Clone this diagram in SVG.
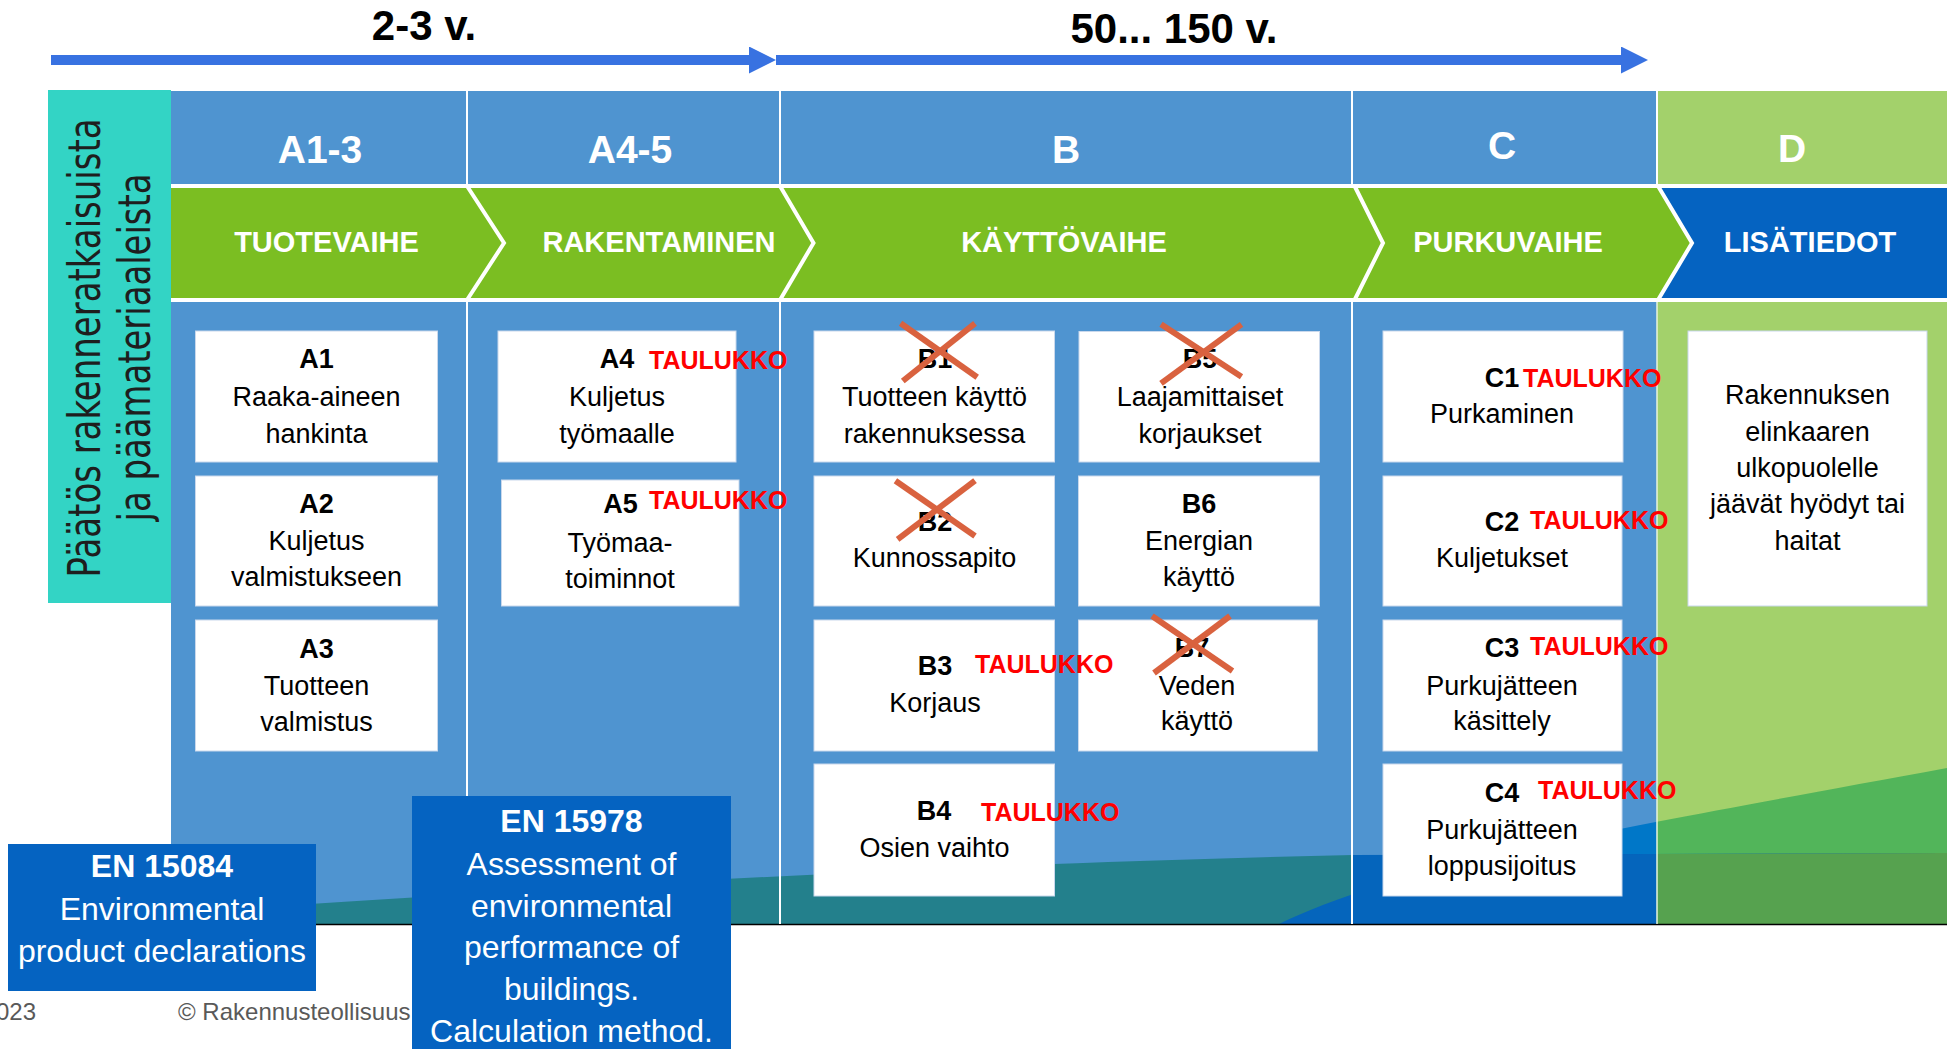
<svg xmlns="http://www.w3.org/2000/svg" width="1947" height="1049" viewBox="0 0 1947 1049">
<style>
text{font-family:"Liberation Sans",Arial,sans-serif}
.hdr{font-weight:bold;font-size:39px;fill:#fff;text-anchor:middle}
.chev{font-weight:bold;font-size:29px;fill:#fff;text-anchor:middle}
.time{font-weight:bold;font-size:42px;fill:#000;text-anchor:middle}
.box{fill:#fff;stroke:#c9d8ec;stroke-width:1}
.t{font-size:27px;fill:#000;text-anchor:middle}
.tb{font-size:27px;font-weight:bold;fill:#000;text-anchor:middle}
.tab{font-size:25px;font-weight:bold;fill:#ff0000}
.x{stroke:#d9623f;stroke-width:6;fill:none}
.div{stroke:#fff;stroke-width:2}
.sep{stroke:#fff;stroke-width:4;fill:none}
.en{fill:#0563c1}
.ent{font-size:32px;fill:#fff;text-anchor:middle}
.entb{font-size:32px;font-weight:bold;fill:#fff;text-anchor:middle}
.foot{font-size:24px;fill:#595959}
.side{font-family:"DejaVu Sans",Verdana,sans-serif;font-size:45px;fill:#1e1e1e;text-anchor:middle}
</style>
<defs>
<marker id="ah" markerUnits="userSpaceOnUse" markerWidth="27" markerHeight="27" viewBox="0 0 27 27" refX="0" refY="13.5" orient="auto">
<path d="M0,0 L27,13.5 L0,27 Z" fill="#3872e1"/>
</marker>
<clipPath id="tealClip"><path d="M171,912 C450,897 800,868 1353,855 L1947,853 L1947,924 L171,924 Z"/></clipPath>
<clipPath id="leftClip"><rect x="171" y="300" width="1486" height="630"/></clipPath>
<clipPath id="rightClip"><rect x="1657" y="300" width="290" height="630"/></clipPath>
</defs>
<rect width="1947" height="1049" fill="#fff"/>

<g id="timeline-labels">
<text class="time" x="424" y="40">2-3 v.</text>
<text class="time" x="1174" y="43">50... 150 v.</text>
</g>

<g id="side-label">
<rect x="48" y="90" width="123" height="513" fill="#33d4c5"/>
<text class="side" transform="translate(99.5,348) rotate(-90) scale(0.75,1)" textLength="612" lengthAdjust="spacingAndGlyphs">Päätös rakenneratkaisuista</text>
<text class="side" transform="translate(150,347.5) rotate(-90) scale(0.75,1)" textLength="464" lengthAdjust="spacingAndGlyphs">ja päämateriaaleista</text>
</g>

<g id="header-row">
<rect x="171" y="91" width="1486" height="93" fill="#4f94d0"/>
<rect x="1657" y="91" width="290" height="93" fill="#a3d16b"/>
<line class="div" x1="467" y1="91" x2="467" y2="184"/>
<line class="div" x1="780" y1="91" x2="780" y2="184"/>
<line class="div" x1="1352" y1="91" x2="1352" y2="184"/>
<line class="div" x1="1657" y1="91" x2="1657" y2="184"/>
<text class="hdr" x="320" y="163">A1-3</text>
<text class="hdr" x="630" y="163">A4-5</text>
<text class="hdr" x="1066" y="163">B</text>
<text class="hdr" x="1502" y="159">C</text>
<text class="hdr" x="1792" y="162">D</text>
</g>

<g id="phase-row">
<rect x="171" y="188" width="1776" height="110" fill="#7bbe22"/>
<path d="M1658,188 L1947,188 L1947,298 L1658,298 L1692,243 Z" fill="#0563c1"/>
<polyline class="sep" points="467,186 504,243 467,300"/>
<polyline class="sep" points="780,186 813.5,243 780,300"/>
<polyline class="sep" points="1354.6,186 1383,243 1354.6,300"/>
<polyline class="sep" points="1658,186 1692,243 1658,300"/>
<text class="chev" x="326.5" y="252">TUOTEVAIHE</text>
<text class="chev" x="659" y="252">RAKENTAMINEN</text>
<text class="chev" x="1064" y="252">KÄYTTÖVAIHE</text>
<text class="chev" x="1508" y="252">PURKUVAIHE</text>
<text class="chev" x="1810" y="252">LISÄTIEDOT</text>
</g>

<g id="body-background">
<rect x="171" y="302" width="1486" height="622" fill="#4f94d0"/>
<rect x="1657" y="302" width="290" height="622" fill="#a3d16b"/>
<path d="M1279,924 C1400,865 1600,832 1947,768 L1947,924 Z" fill="#0077c8" clip-path="url(#leftClip)"/>
<path d="M1279,924 C1400,865 1600,832 1947,768 L1947,924 Z" fill="#52b55a" clip-path="url(#rightClip)"/>
<g clip-path="url(#tealClip)">
<rect x="171" y="840" width="1181" height="90" fill="#23808c"/>
<path d="M1279,924 C1400,865 1600,832 1947,768 L1947,924 Z" fill="#0565bc"/>
<rect x="1352" y="840" width="305" height="90" fill="#0565bc"/>
<rect x="1657" y="840" width="290" height="90" fill="#56a24f"/>
</g>
<line x1="171" y1="924.5" x2="1947" y2="924.5" stroke="#000" stroke-width="1.5"/>
<line class="div" x1="467" y1="302" x2="467" y2="924"/>
<line class="div" x1="780" y1="302" x2="780" y2="924"/>
<line class="div" x1="1352" y1="302" x2="1352" y2="924"/>
<line x1="1657" y1="302" x2="1657" y2="924" stroke="#e8f3dc" stroke-width="1.5"/>
</g>

<g id="A1">
<rect class="box" x="195.5" y="331" width="242" height="131"/>
<text class="tb" x="316.5" y="368">A1</text>
<text class="t" x="316.5" y="406">Raaka-aineen</text>
<text class="t" x="316.5" y="443">hankinta</text>
</g>
<g id="A2">
<rect class="box" x="195.5" y="476" width="242" height="130"/>
<text class="tb" x="316.5" y="513">A2</text>
<text class="t" x="316.5" y="550">Kuljetus</text>
<text class="t" x="316.5" y="586">valmistukseen</text>
</g>
<g id="A3">
<rect class="box" x="195.5" y="620" width="242" height="131"/>
<text class="tb" x="316.5" y="658">A3</text>
<text class="t" x="316.5" y="695">Tuotteen</text>
<text class="t" x="316.5" y="731">valmistus</text>
</g>
<g id="A4">
<rect class="box" x="498" y="331" width="238" height="131"/>
<text class="tb" x="617" y="368">A4</text>
<text class="tab" x="649" y="369">TAULUKKO</text>
<text class="t" x="617" y="406">Kuljetus</text>
<text class="t" x="617" y="443">työmaalle</text>
</g>
<g id="A5">
<rect class="box" x="501.5" y="480" width="237.5" height="126"/>
<text class="tb" x="620.5" y="513">A5</text>
<text class="tab" x="649" y="509">TAULUKKO</text>
<text class="t" x="620" y="552">Työmaa-</text>
<text class="t" x="620" y="588">toiminnot</text>
</g>

<g id="B1">
<rect class="box" x="814" y="331" width="240.5" height="131"/>
<text class="tb" x="935" y="368">B1</text>
<text class="t" x="934.5" y="406">Tuotteen käyttö</text>
<text class="t" x="934.5" y="443">rakennuksessa</text>
<line class="x" x1="900.6" y1="323.3" x2="977.2" y2="377.3"/>
<line class="x" x1="975" y1="323.3" x2="902.8" y2="381"/>
</g>
<g id="B5">
<rect class="box" x="1079" y="331.5" width="240.5" height="130.5"/>
<text class="tb" x="1200" y="368">B5</text>
<text class="t" x="1200" y="406">Laajamittaiset</text>
<text class="t" x="1200" y="443">korjaukset</text>
<line class="x" x1="1161" y1="324.3" x2="1241.5" y2="376.7"/>
<line class="x" x1="1241.5" y1="324.3" x2="1161" y2="383.3"/>
</g>
<g id="B2">
<rect class="box" x="814" y="476" width="240.5" height="130"/>
<text class="tb" x="935" y="531">B2</text>
<text class="t" x="934.5" y="567">Kunnossapito</text>
<line class="x" x1="895.4" y1="480.7" x2="975" y2="536"/>
<line class="x" x1="975" y1="480.7" x2="897.6" y2="539.3"/>
</g>
<g id="B6">
<rect class="box" x="1078.5" y="476" width="241" height="130"/>
<text class="tb" x="1199" y="513">B6</text>
<text class="t" x="1199" y="550">Energian</text>
<text class="t" x="1199" y="586">käyttö</text>
</g>
<g id="B7">
<rect class="box" x="1078.5" y="620" width="239" height="131"/>
<text class="tb" x="1192" y="657">B7</text>
<text class="t" x="1197" y="695">Veden</text>
<text class="t" x="1197" y="730">käyttö</text>
<line class="x" x1="1152" y1="616" x2="1232.5" y2="671"/>
<line class="x" x1="1230" y1="616" x2="1154" y2="673"/>
</g>
<g id="B3">
<rect class="box" x="814" y="620" width="240.5" height="131"/>
<text class="tb" x="935" y="675">B3</text>
<text class="tab" x="975" y="673">TAULUKKO</text>
<text class="t" x="935" y="712">Korjaus</text>
</g>
<g id="B4">
<rect class="box" x="814" y="764" width="240.5" height="132"/>
<text class="tb" x="934" y="820">B4</text>
<text class="tab" x="981" y="821">TAULUKKO</text>
<text class="t" x="934.5" y="857">Osien vaihto</text>
</g>

<g id="C1">
<rect class="box" x="1383" y="331" width="240" height="131"/>
<text class="tb" x="1502" y="387">C1</text>
<text class="tab" x="1523" y="387">TAULUKKO</text>
<text class="t" x="1502" y="423">Purkaminen</text>
</g>
<g id="C2">
<rect class="box" x="1383" y="476" width="239" height="130"/>
<text class="tb" x="1502" y="531">C2</text>
<text class="tab" x="1530" y="529">TAULUKKO</text>
<text class="t" x="1502" y="567">Kuljetukset</text>
</g>
<g id="C3">
<rect class="box" x="1383" y="620" width="239" height="131"/>
<text class="tb" x="1502" y="657">C3</text>
<text class="tab" x="1530" y="655">TAULUKKO</text>
<text class="t" x="1502" y="695">Purkujätteen</text>
<text class="t" x="1502" y="730">käsittely</text>
</g>
<g id="C4">
<rect class="box" x="1383" y="764" width="239" height="132"/>
<text class="tb" x="1502" y="802">C4</text>
<text class="tab" x="1538" y="799">TAULUKKO</text>
<text class="t" x="1502" y="839">Purkujätteen</text>
<text class="t" x="1502" y="875">loppusijoitus</text>
</g>

<g id="D">
<rect class="box" x="1688" y="331" width="239" height="275"/>
<text class="t" x="1807.5" y="404">Rakennuksen</text>
<text class="t" x="1807.5" y="441">elinkaaren</text>
<text class="t" x="1807.5" y="477">ulkopuolelle</text>
<text class="t" x="1807.5" y="513">jäävät hyödyt tai</text>
<text class="t" x="1807.5" y="550">haitat</text>
</g>

<g id="footer">
<text class="foot" x="-4" y="1020">023</text>
<text class="foot" x="178" y="1020">© Rakennusteollisuus</text>
</g>

<g id="EN15084">
<rect class="en" x="8" y="844" width="308" height="147"/>
<text class="entb" x="162" y="877">EN 15084</text>
<text class="ent" x="162" y="920">Environmental</text>
<text class="ent" x="162" y="962">product declarations</text>
</g>

<g id="EN15978">
<rect class="en" x="412" y="796" width="319" height="260"/>
<text class="entb" x="571.5" y="832">EN 15978</text>
<text class="ent" x="571.5" y="875">Assessment of</text>
<text class="ent" x="571.5" y="917">environmental</text>
<text class="ent" x="571.5" y="958">performance of</text>
<text class="ent" x="571.5" y="1000">buildings.</text>
<text class="ent" x="571.5" y="1042">Calculation method.</text>
</g>

<g id="connectors">
<line x1="51" y1="60" x2="749" y2="60" stroke="#3872e1" stroke-width="10" marker-end="url(#ah)"/>
<line x1="776" y1="60" x2="1621" y2="60" stroke="#3872e1" stroke-width="10" marker-end="url(#ah)"/>
</g>
</svg>
